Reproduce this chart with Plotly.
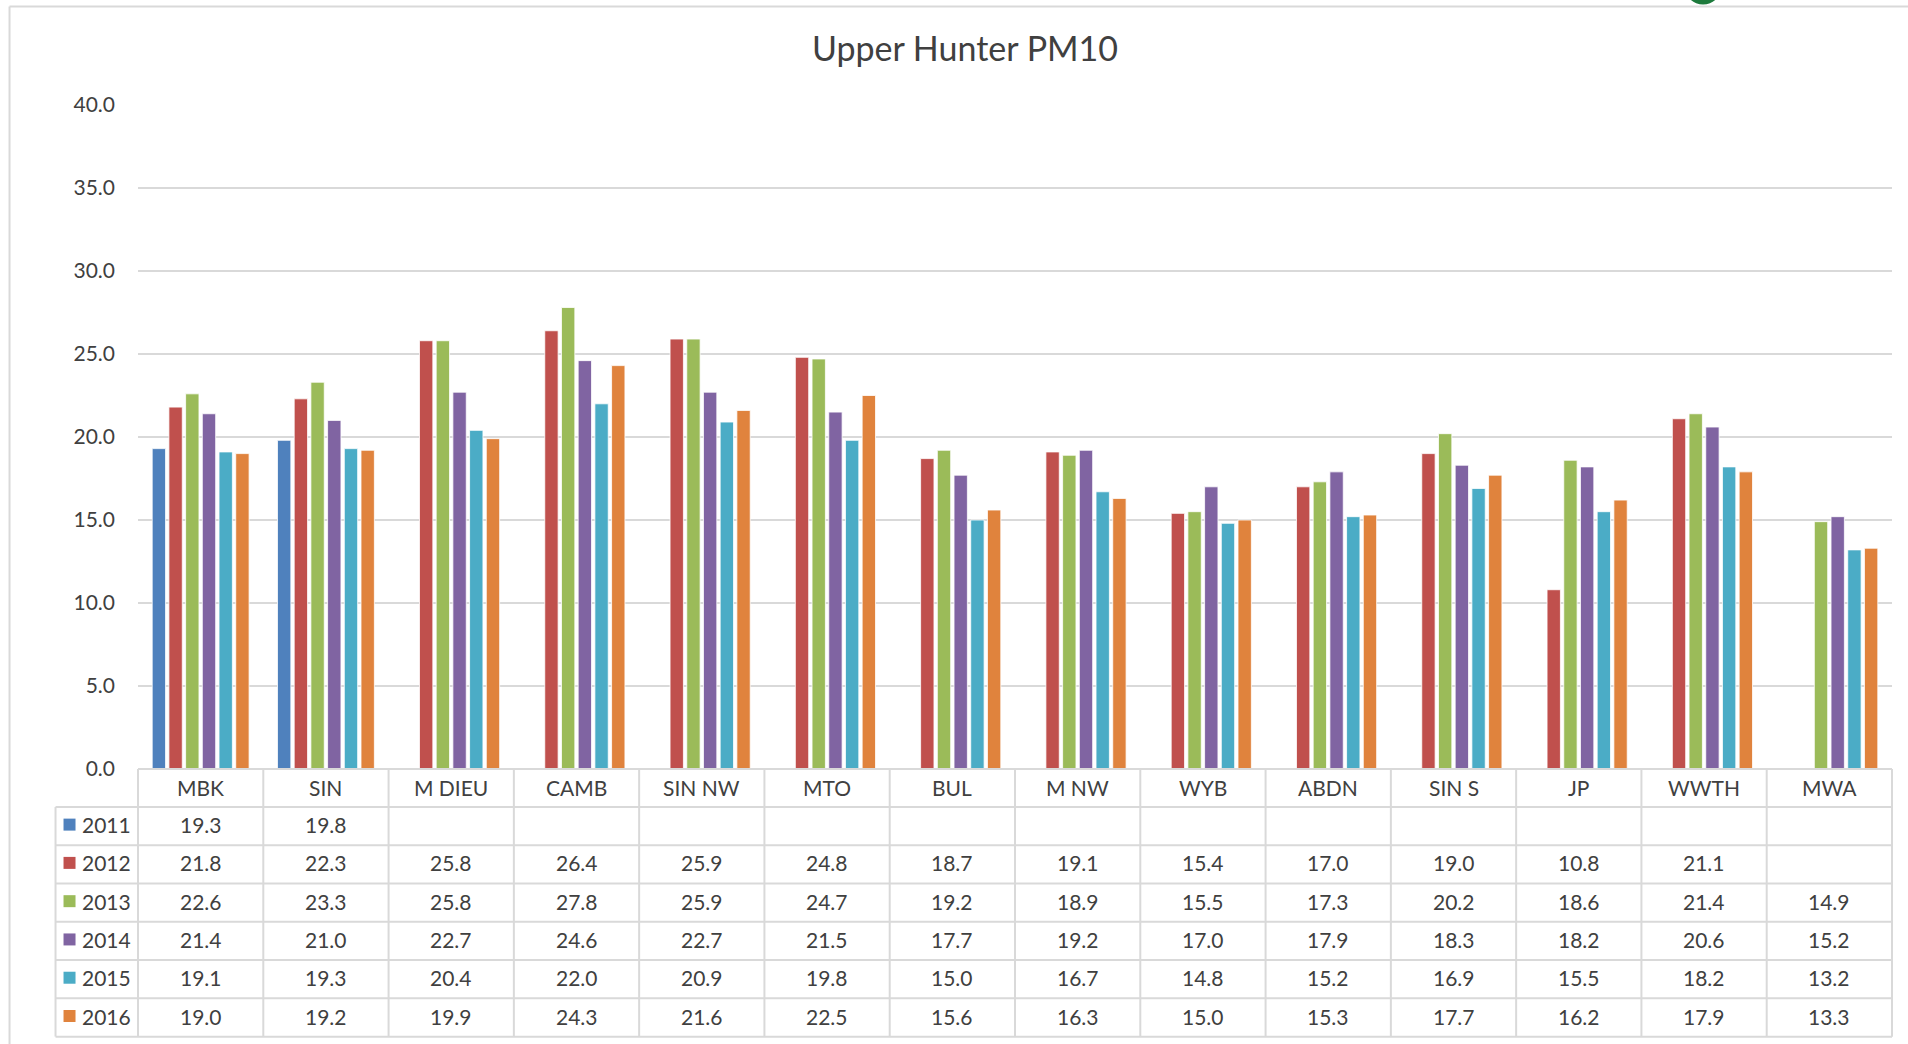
import plotly.graph_objects as go

# stations and yearly PM10 averages
stations = ["MBK", "SIN", "M DIEU", "CAMB", "SIN NW", "MTO", "BUL", "M NW",
            "WYB", "ABDN", "SIN S", "JP", "WWTH", "MWA"]
years = ["2011", "2012", "2013", "2014", "2015", "2016"]

pm_2011 = [19.3, 19.8, None, None, None, None, None, None, None, None, None, None, None, None]
pm_2012 = [21.8, 22.3, 25.8, 26.4, 25.9, 24.8, 18.7, 19.1, 15.4, 17.0, 19.0, 10.8, 21.1, None]
pm_2013 = [22.6, 23.3, 25.8, 27.8, 25.9, 24.7, 19.2, 18.9, 15.5, 17.3, 20.2, 18.6, 21.4, 14.9]
pm_2014 = [21.4, 21.0, 22.7, 24.6, 22.7, 21.5, 17.7, 19.2, 17.0, 17.9, 18.3, 18.2, 20.6, 15.2]
pm_2015 = [19.1, 19.3, 20.4, 22.0, 20.9, 19.8, 15.0, 16.7, 14.8, 15.2, 16.9, 15.5, 18.2, 13.2]
pm_2016 = [19.0, 19.2, 19.9, 24.3, 21.6, 22.5, 15.6, 16.3, 15.0, 15.3, 17.7, 16.2, 17.9, 13.3]

series = [pm_2011, pm_2012, pm_2013, pm_2014, pm_2015, pm_2016]
colors = ["#4F81BD", "#C0504D", "#9BBB59", "#8064A2", "#4BACC6", "#E0833D"]

W, H = 1908, 1044
L, R, T, B = 137.5, 1892, 104.6, 769
ROW_H = 38.3
HEAD_B = 807
LEG_L = 55
GRID = "#d9d9d9"
TXT = "#404040"
FONT = "Lato"


def xp(px):
    return (px - L) / (R - L)


def yp(py):
    return (B - py) / (B - T)


fig = go.Figure()
for yr, vals, c in zip(years, series, colors):
    fig.add_trace(go.Bar(x=stations, y=vals, name=yr, marker_color=c,
                         marker_line=dict(color="white", width=0.8)))

shapes = []
annos = []
n = len(stations)
cw = (R - L) / n

# table grid
shapes.append(dict(type="line", xref="paper", yref="paper", x0=0, x1=1, y0=yp(B), y1=yp(B),
                   line=dict(color=GRID, width=2)))
for j in range(len(years) + 1):
    y = HEAD_B + j * ROW_H
    shapes.append(dict(type="line", xref="paper", yref="paper", x0=xp(LEG_L), x1=1,
                       y0=yp(y), y1=yp(y), line=dict(color=GRID, width=2)))
for k in range(n + 1):
    shapes.append(dict(type="line", xref="paper", yref="paper", x0=xp(L + k * cw), x1=xp(L + k * cw),
                       y0=yp(B), y1=yp(HEAD_B + len(years) * ROW_H), line=dict(color=GRID, width=2)))
shapes.append(dict(type="line", xref="paper", yref="paper", x0=xp(LEG_L), x1=xp(LEG_L),
                   y0=yp(HEAD_B), y1=yp(HEAD_B + len(years) * ROW_H), line=dict(color=GRID, width=2)))

# outer frame and logo sliver
shapes.append(dict(type="line", xref="paper", yref="paper", x0=xp(9), x1=xp(9), y0=yp(6), y1=yp(H + 5),
                   line=dict(color=GRID, width=2)))
shapes.append(dict(type="line", xref="paper", yref="paper", x0=xp(9), x1=xp(W + 5), y0=yp(6), y1=yp(6),
                   line=dict(color=GRID, width=2)))
shapes.append(dict(type="circle", xref="paper", yref="paper", x0=xp(1685), x1=xp(1721),
                   y0=yp(-30), y1=yp(4), fillcolor="#1d7a3c", line=dict(width=0)))

# header
for s in stations:
    annos.append(dict(x=s, xref="x", y=yp((B + HEAD_B) / 2), yref="paper", text=s, showarrow=False,
                      xanchor="center", yanchor="middle",
                      font=dict(size=21, color=TXT, family=FONT)))

# rows
for j, (yr, vals, c) in enumerate(zip(years, series, colors)):
    yc = HEAD_B + (j + 0.5) * ROW_H - 1.5
    shapes.append(dict(type="rect", xref="paper", yref="paper", x0=xp(63), x1=xp(75),
                       y0=yp(yc - 6), y1=yp(yc + 6), fillcolor=c, line=dict(width=0)))
    annos.append(dict(x=xp(79), xref="paper", y=yp(yc), yref="paper", text=yr, showarrow=False,
                      xanchor="left", yanchor="middle", font=dict(size=21, color=TXT, family=FONT)))
    for s, v in zip(stations, vals):
        if v is None:
            continue
        annos.append(dict(x=s, xref="x", y=yp(yc), yref="paper", text=f"{v:.1f}", showarrow=False,
                          xanchor="center", yanchor="middle",
                          font=dict(size=21, color=TXT, family=FONT)))

fig.update_layout(
    width=W, height=H,
    margin=dict(l=L, r=W - R, t=T, b=H - B),
    paper_bgcolor="white", plot_bgcolor="white",
    barmode="group", bargap=0.2, bargroupgap=0.2,
    showlegend=False,
    title=dict(text="Upper Hunter PM10", x=965 / W, xref="container", xanchor="center",
               y=1 - 49 / H, yref="container", yanchor="middle",
               font=dict(size=34, color=TXT, family=FONT)),
    shapes=shapes, annotations=annos,
    font=dict(family=FONT, color=TXT),
)
fig.update_xaxes(showticklabels=False, showgrid=False, zeroline=False, showline=False,
                 range=[-0.5, n - 0.5])
fig.update_yaxes(range=[0, 40], dtick=5, tickformat=".1f", showgrid=True, gridcolor=GRID,
                 gridwidth=1.5, zeroline=False, showline=False,
                 tickfont=dict(size=21, color=TXT, family=FONT), ticklabelstandoff=22)

fig.write_html("out.html", config={"displayModeBar": False},
               post_script="document.body.style.margin='0';")
